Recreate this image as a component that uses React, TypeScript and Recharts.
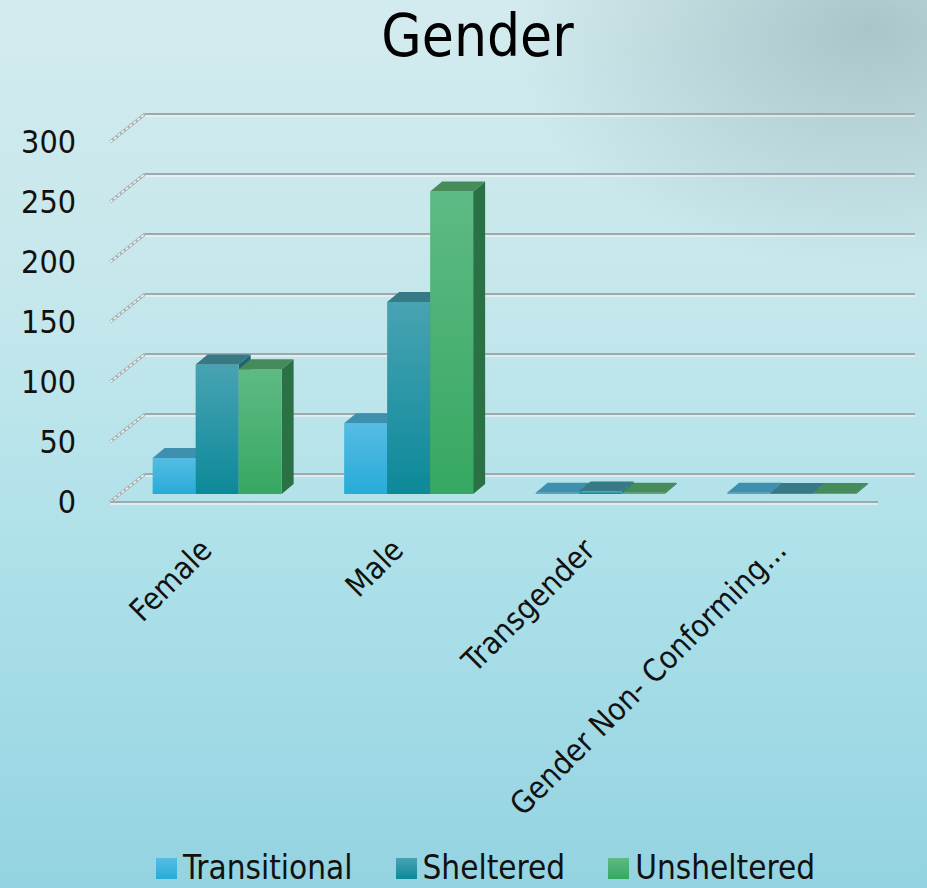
import { Bar, BarChart, CartesianGrid, XAxis, YAxis } from "recharts";

const categories = ["Female", "Male", "Transgender", "Gender Non- Conforming..."];
const transitional = [30, 59, 1, 1];
const sheltered = [108, 160, 2, 0];
const unsheltered = [104, 252, 1, 0];
const yTicks = [0, 50, 100, 150, 200, 250, 300];

const series = [
	{ key: "transitional", name: "Transitional", top: "#56bce3", bottom: "#27abd8", lid: "#3f8fae", side: "#2a7f9c" },
	{ key: "sheltered", name: "Sheltered", top: "#48a3b3", bottom: "#0c8999", lid: "#377984", side: "#1d6470" },
	{ key: "unsheltered", name: "Unsheltered", top: "#5eba84", bottom: "#36a862", lid: "#468c5b", side: "#2b7146" },
];

const data = categories.map((name, i) => ({
	name,
	transitional: transitional[i],
	sheltered: sheltered[i],
	unsheltered: unsheltered[i],
}));

const FONT = "'DejaVu Sans Condensed', 'DejaVu Sans', sans-serif";
// depth offsets of the 3d look
const BACK_DX = 35;
const BACK_DY = -28;
const BAR_DX = 10;
const BAR_DY = -8;
const SIDE_DX = 12;
const SIDE_DY = -10;
const PLOT_LEFT = 110;
const PLOT_RIGHT = 878;

function GridLine(props: any) {
	const y = props.y1;
	const isFloor = Math.abs(y - 502) < 1;
	const bx = PLOT_LEFT + BACK_DX;
	const by = y + BACK_DY;
	return (
		<g key={props.key}>
			<line x1={PLOT_LEFT} y1={y} x2={bx} y2={by} stroke="#a9b1b4" strokeWidth={3} />
			<line x1={PLOT_LEFT} y1={y} x2={bx} y2={by} stroke="#f4f7f7" strokeWidth={1.5} strokeDasharray="3 2" />
			<line x1={bx} y1={by} x2={915} y2={by} stroke="#a0a8ab" strokeWidth={2.2} />
			<line x1={bx} y1={by + 2} x2={915} y2={by + 2} stroke="#f2f6f6" strokeWidth={1.5} opacity={0.8} />
			{isFloor && (
				<>
					<line x1={PLOT_LEFT} y1={y} x2={PLOT_RIGHT} y2={y} stroke="#a0a8ab" strokeWidth={2.2} />
					<line x1={PLOT_LEFT} y1={y + 2} x2={PLOT_RIGHT} y2={y + 2} stroke="#f2f6f6" strokeWidth={1.5} opacity={0.8} />
				</>
			)}
		</g>
	);
}

function makeShape(s: (typeof series)[number]) {
	return (props: any) => {
		const { x, y, width, height } = props;
		const fx = x + BAR_DX;
		const fy = y + BAR_DY;
		const h = Math.max(height, 0);
		const lid = `${fx},${fy} ${fx + SIDE_DX},${fy + SIDE_DY} ${fx + width + SIDE_DX},${fy + SIDE_DY} ${fx + width},${fy}`;
		const side = `${fx + width},${fy} ${fx + width + SIDE_DX},${fy + SIDE_DY} ${fx + width + SIDE_DX},${fy + SIDE_DY + h} ${fx + width},${fy + h}`;
		return (
			<g>
				<polygon points={side} fill={s.side} />
				<rect x={fx} y={fy} width={width} height={h} fill={`url(#grad-${s.key})`} />
				<polygon points={lid} fill={s.lid} />
			</g>
		);
	};
}

function YTick(props: any) {
	return (
		<text x={76} y={props.y} dy={11} textAnchor="end" fontSize={32} fontFamily={FONT} fill="#111">
			{props.payload.value}
		</text>
	);
}

function XTick(props: any) {
	const x = props.x + 6;
	const y = 552;
	return (
		<text x={x} y={y} textAnchor="end" transform={`rotate(-45 ${x} ${y})`} fontSize={31} fontFamily={FONT} fill="#111">
			{props.payload.value}
		</text>
	);
}

export default function App() {
	return (
		<div
			style={{
				position: "absolute",
				left: 0,
				top: 0,
				width: 927,
				height: 888,
				overflow: "hidden",
				fontFamily: FONT,
				background:
					"radial-gradient(ellipse 360px 240px at 870px 30px, rgba(130,160,165,0.5), rgba(130,160,165,0) 100%), linear-gradient(180deg, #d3ebee 0%, #c4e7ec 35%, #ace0e9 65%, #94d3e1 100%)",
			}}
		>
			<div style={{ position: "absolute", top: 2, left: 28, width: 899, textAlign: "center", fontSize: 58, color: "#000" }}>
				Gender
			</div>
			<BarChart
				width={927}
				height={888}
				data={data}
				margin={{ top: 142, right: 49, bottom: 0, left: 0 }}
				barCategoryGap="16%"
				barGap={0}
			>
				<defs>
					{series.map((s) => (
						<linearGradient key={s.key} id={`grad-${s.key}`} x1="0" y1="0" x2="0" y2="1">
							<stop offset="0%" stopColor={s.top} />
							<stop offset="100%" stopColor={s.bottom} />
						</linearGradient>
					))}
				</defs>
				<CartesianGrid vertical={false} horizontal={GridLine} />
				<XAxis dataKey="name" height={386} axisLine={false} tickLine={false} tick={XTick} interval={0} />
				<YAxis width={112} domain={[0, 300]} ticks={yTicks} axisLine={false} tickLine={false} tick={YTick} />
				{series.map((s) => (
					<Bar
						key={s.key}
						dataKey={s.key}
						name={s.name}
						fill={s.bottom}
						minPointSize={1}
						shape={makeShape(s)}
						isAnimationActive={false}
					/>
				))}
			</BarChart>
			<div style={{ position: "absolute", left: 156, top: 851, display: "flex", alignItems: "center", gap: 43 }}>
				{series.map((s) => (
					<div key={s.key} style={{ display: "flex", alignItems: "center" }}>
						<span
							style={{
								display: "inline-block",
								width: 21,
								height: 21,
								marginRight: 6,
								background: `linear-gradient(180deg, ${s.top}, ${s.bottom})`,
							}}
						/>
						<span style={{ fontSize: 33, color: "#111", lineHeight: "34px" }}>{s.name}</span>
					</div>
				))}
			</div>
		</div>
	);
}
